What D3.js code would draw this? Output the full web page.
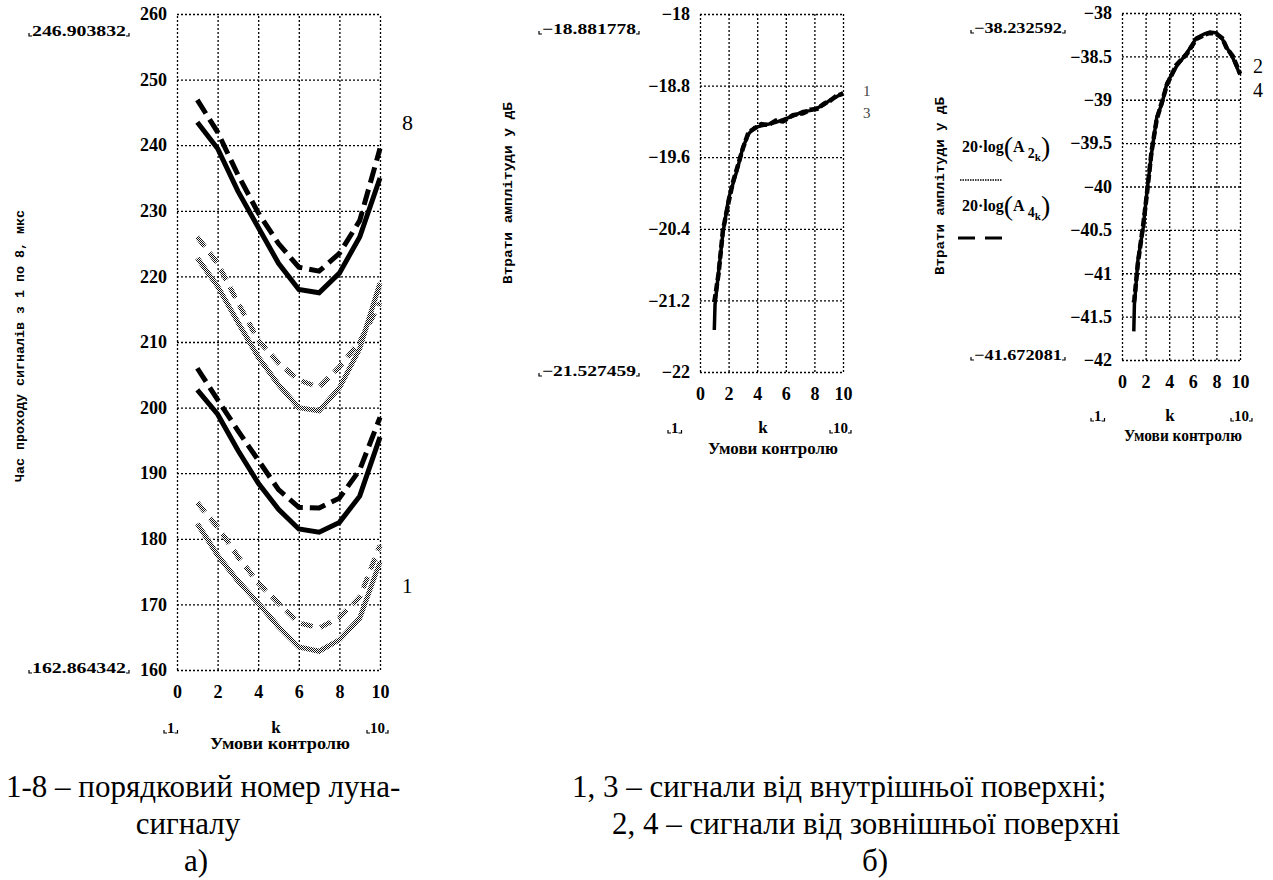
<!DOCTYPE html>
<html>
<head>
<meta charset="utf-8">
<script src="https://cdn.jsdelivr.net/npm/d3@7"></script>
<style>
  body { margin: 0; background: #fff; }
  svg { display: block; }
  .tick text { font-family: 'Liberation Serif', Tinos, 'DejaVu Serif', serif; font-weight: bold; font-size: 18px; fill: #000; }
</style>
</head>
<body>
<svg id="chart" width="1273" height="880"></svg>
<script>
// ---- data ----
const kSteps = [1, 2, 3, 4, 5, 6, 7, 8, 9, 10];
const echo1 = [182.3, 177.5, 173.6, 170.2, 166.6, 163.5, 162.86, 164.6, 167.9, 176.5];
const echo2 = [185.5, 181.8, 177.3, 173.3, 170.2, 167.2, 166.4, 168.0, 171.1, 179.0];
const echo3 = [202.7, 199.0, 193.5, 188.5, 184.5, 181.5, 181.0, 182.5, 186.5, 195.5];
const echo4 = [206.0, 201.2, 196.5, 192.0, 187.5, 184.8, 184.7, 186.2, 190.5, 198.5];
const echo5 = [222.8, 218.5, 213.0, 207.7, 203.5, 200.0, 199.5, 203.0, 209.0, 219.0];
const echo6 = [226.0, 222.0, 216.0, 210.3, 206.8, 204.2, 203.1, 206.2, 210.0, 216.0];
const echo7 = [243.5, 239.5, 233.0, 227.5, 222.0, 218.0, 217.5, 220.5, 226.0, 235.0];
const echo8 = [246.9, 242.0, 235.5, 229.7, 225.0, 221.4, 220.8, 223.5, 228.5, 239.5];

const midK = [1, 1.05, 1.3, 1.6, 2.0, 2.3, 2.6, 3.0, 3.4, 3.8, 4.3, 4.8, 5.3, 5.8, 6.5, 7.2, 7.7, 8.2, 8.7, 9.1, 9.5, 10];
const amp1 = [-21.53, -21.25, -20.88, -20.45, -20.06, -19.9, -19.74, -19.49, -19.34, -19.27, -19.25, -19.23, -19.21, -19.18, -19.14, -19.09, -19.08, -19.05, -19.01, -18.96, -18.93, -18.88];
const amp3 = [-21.22, -21.17, -20.9, -20.42, -20.1, -19.88, -19.72, -19.5, -19.32, -19.28, -19.23, -19.24, -19.19, -19.2, -19.13, -19.11, -19.07, -19.06, -19.0, -18.97, -18.92, -18.89];

const rightK = [1, 1.05, 1.35, 1.8, 2.1, 2.5, 2.95, 3.4, 3.8, 4.6, 5.5, 6.3, 7.0, 7.45, 8.0, 8.5, 8.85, 9.4, 10];
const amp2 = [-41.67, -41.36, -40.85, -40.47, -40.08, -39.62, -39.2, -39.04, -38.81, -38.62, -38.46, -38.29, -38.24, -38.22, -38.23, -38.3, -38.39, -38.52, -38.71];
const amp4 = [-41.34, -41.3, -40.88, -40.44, -40.1, -39.6, -39.22, -39.02, -38.83, -38.6, -38.47, -38.3, -38.25, -38.23, -38.24, -38.29, -38.4, -38.5, -38.7];

const xTicks = [0, 2, 4, 6, 8, 10];
const leftYTicks = [160, 170, 180, 190, 200, 210, 220, 230, 240, 250, 260];
const midYTicks = [-18, -18.8, -19.6, -20.4, -21.2, -22];
const rightYTicks = [-38, -38.5, -39, -39.5, -40, -40.5, -41, -41.5, -42];

const svg = d3.select('#chart');
const serif = "'Liberation Serif', Tinos, 'DejaVu Serif', serif";
const mono = "'Liberation Mono', 'DejaVu Sans Mono', monospace";

// checker pattern for the grey "hatched" curves
const defs = svg.append('defs');
const pat = defs.append('pattern').attr('id', 'hatch')
    .attr('patternUnits', 'userSpaceOnUse').attr('width', 2).attr('height', 2);
pat.append('rect').attr('width', 2).attr('height', 2).attr('fill', '#fff');
pat.append('rect').attr('width', 1).attr('height', 1).attr('fill', '#111');
pat.append('rect').attr('x', 1).attr('y', 1).attr('width', 1).attr('height', 1).attr('fill', '#111');

const fmtMinus = d => (d < 0 ? '\u2212' : '') + Math.abs(d);

function panel(o) {
    const x = d3.scaleLinear().domain([0, 10]).range([o.left, o.right]);
    const y = d3.scaleLinear().domain(o.yDomain).range([o.bottom, o.top]);
    const g = svg.append('g');

    // dotted grid
    g.append('g').attr('transform', `translate(0,${o.bottom})`)
        .call(d3.axisBottom(x).tickValues(xTicks).tickSize(-(o.bottom - o.top)).tickFormat(''))
        .call(a => a.select('.domain').remove())
        .selectAll('line').attr('stroke', '#000').attr('stroke-width', 1.3).attr('stroke-dasharray', '2,2');
    g.append('g').attr('transform', `translate(${o.left},0)`)
        .call(d3.axisLeft(y).tickValues(o.yTicks).tickSize(-(o.right - o.left)).tickFormat(''))
        .call(a => a.select('.domain').remove())
        .selectAll('line').attr('stroke', '#000').attr('stroke-width', 1.3).attr('stroke-dasharray', '2,2');

    // tick labels
    g.append('g').attr('transform', `translate(${o.left - 10},0)`)
        .call(d3.axisLeft(y).tickValues(o.yTicks).tickSize(0).tickPadding(0).tickFormat(fmtMinus))
        .call(a => a.select('.domain').remove());
    g.append('g').attr('transform', `translate(0,${o.bottom + 15})`)
        .call(d3.axisBottom(x).tickValues(xTicks).tickSize(0).tickPadding(0))
        .call(a => a.select('.domain').remove());

    return { x, y, g };
}

function addText(t, x, y, opts = {}) {
    return svg.append('text').attr('x', x).attr('y', y)
        .style('font-family', opts.family || serif)
        .attr('font-size', opts.size || 14)
        .attr('font-weight', opts.weight || 'normal')
        .attr('text-anchor', opts.anchor || 'start')
        .attr('fill', opts.fill || '#000')
        .text(t);
}

function limitLabel(t, x, y, len) {
    const el = addText(t, x, y, { weight: 'bold', size: 15 });
    if (len) el.attr('textLength', len).attr('lengthAdjust', 'spacingAndGlyphs');
    const b = el.node().getBBox();
    svg.append('path')
        .attr('d', `M${b.x - 3},${b.y + b.height - 6}v3h3 M${b.x + b.width + 3},${b.y + b.height - 6}v3h-3`)
        .attr('stroke', '#000').attr('fill', 'none').attr('stroke-width', 1.2);
}

function rotatedLabel(t, x, cy, len) {
    svg.append('text')
        .attr('transform', `translate(${x},${cy}) rotate(-90)`)
        .attr('text-anchor', 'middle')
        .style('font-family', mono).attr('font-weight', 'bold').attr('font-size', 13)
        .attr('textLength', len).attr('lengthAdjust', 'spacingAndGlyphs')
        .text(t);
}

function bottomLabels(o) {
    limitLabel('1', o.one, o.y);
    addText('k', o.k, o.y, { weight: 'bold', size: 17, anchor: 'middle' });
    limitLabel('10', o.ten, o.y);
    addText('Умови контролю', o.title, o.y2, { weight: 'bold', size: 16, anchor: 'middle' })
        .attr('textLength', o.len).attr('lengthAdjust', 'spacingAndGlyphs');
}

// ---- panel a) ----
const pa = panel({ left: 177, right: 380, top: 14, bottom: 670, yDomain: [160, 260], yTicks: leftYTicks });
const lineA = d3.line().x((d, i) => pa.x(kSteps[i])).y(d => pa.y(d));
const leftSeries = [
    { v: echo1, grey: true, dash: false },
    { v: echo2, grey: true, dash: true },
    { v: echo3, grey: false, dash: false },
    { v: echo4, grey: false, dash: true },
    { v: echo5, grey: true, dash: false },
    { v: echo6, grey: true, dash: true },
    { v: echo7, grey: false, dash: false },
    { v: echo8, grey: false, dash: true }
];
pa.g.append('g').selectAll('path').data(leftSeries).join('path')
    .attr('d', d => lineA(d.v))
    .attr('fill', 'none')
    .attr('stroke', d => d.grey ? 'url(#hatch)' : '#000')
    .attr('stroke-width', 5)
    .attr('stroke-dasharray', d => d.dash ? (d.grey ? '12,8' : '16,7') : null);

limitLabel('246.903832', 32, 36, 94);
limitLabel('162.864342', 32, 673, 94);
rotatedLabel('Час проходу сигналів з 1 по 8, мкс', 24, 346, 272);
addText('8', 402, 130, { size: 22 });
addText('1', 402, 593, { size: 21 });
bottomLabels({ one: 167, k: 276, ten: 370, y: 733, title: 280, y2: 749, len: 140 });

// ---- panel б) middle ----
const pm = panel({ left: 700, right: 843, top: 14, bottom: 372, yDomain: [-22, -18], yTicks: midYTicks });
const lineM = d3.line().x((d, i) => pm.x(midK[i])).y(d => pm.y(d));
pm.g.append('path').attr('d', lineM(amp1)).attr('fill', 'none').attr('stroke', '#000').attr('stroke-width', 3.5);
pm.g.append('path').attr('d', lineM(amp3)).attr('fill', 'none').attr('stroke', '#000').attr('stroke-width', 4.5)
    .attr('stroke-dasharray', '8,3');
limitLabel('\u221218.881778', 542, 34, 94);
limitLabel('\u221221.527459', 542, 376, 94);
rotatedLabel('Втрати амплітуди у дБ', 512, 193, 182);
addText('1', 863, 96, { size: 15, fill: '#444' });
addText('3', 863, 118, { size: 15, fill: '#444' });
bottomLabels({ one: 671, k: 763, ten: 833, y: 433, title: 773, y2: 454, len: 130 });

// ---- panel б) right ----
const pr = panel({ left: 1122, right: 1240, top: 13, bottom: 360, yDomain: [-42, -38], yTicks: rightYTicks });
const lineR = d3.line().x((d, i) => pr.x(rightK[i])).y(d => pr.y(d));
pr.g.append('path').attr('d', lineR(amp2)).attr('fill', 'none').attr('stroke', '#000').attr('stroke-width', 3.5);
pr.g.append('path').attr('d', lineR(amp4)).attr('fill', 'none').attr('stroke', '#000').attr('stroke-width', 4.5)
    .attr('stroke-dasharray', '8,3');
limitLabel('\u221238.232592', 974, 33, 88);
limitLabel('\u221241.672081', 974, 360, 88);
rotatedLabel('Втрати амплітуди у дБ', 944, 186, 178);
addText('2', 1253, 73, { size: 20 });
addText('4', 1253, 97, { size: 20 });
bottomLabels({ one: 1094, k: 1170, ten: 1234, y: 421, title: 1183, y2: 441, len: 118 });

// legend
function legendLabel(sub, y) {
    const t = svg.append('text').attr('x', 962).attr('y', y)
        .style('font-family', serif).attr('font-weight', 'bold').attr('font-size', 16);
    t.append('tspan').text('20·log');
    t.append('tspan').attr('font-size', 28).attr('font-weight', 'normal').attr('dy', 4).text('(');
    t.append('tspan').attr('dy', -4).text('A ');
    t.append('tspan').attr('font-size', 14).attr('dy', 6).text(sub);
    t.append('tspan').attr('font-size', 11).attr('dy', 3).text('k');
    t.append('tspan').attr('font-size', 28).attr('font-weight', 'normal').attr('dy', -5).text(')');
}
legendLabel('2', 152);
legendLabel('4', 211);
svg.append('line').attr('x1', 960).attr('x2', 1002).attr('y1', 180).attr('y2', 180)
    .attr('stroke', '#000').attr('stroke-width', 1.5).attr('stroke-dasharray', '1.5,1');
svg.append('line').attr('x1', 958).attr('x2', 1002).attr('y1', 238).attr('y2', 238)
    .attr('stroke', '#000').attr('stroke-width', 3).attr('stroke-dasharray', '17,10');

// captions
addText('1-8 – порядковий номер луна-', 6, 797, { size: 31 });
addText('сигналу', 188, 834, { size: 31, anchor: 'middle' });
addText('а)', 196, 871, { size: 31, anchor: 'middle' });
addText('1, 3 – сигнали від внутрішньої поверхні;', 572, 797, { size: 31 });
addText('2, 4 – сигнали від зовнішньої поверхні', 612, 834, { size: 31 });
addText('б)', 875, 871, { size: 31, anchor: 'middle' });
</script>
</body>
</html>
